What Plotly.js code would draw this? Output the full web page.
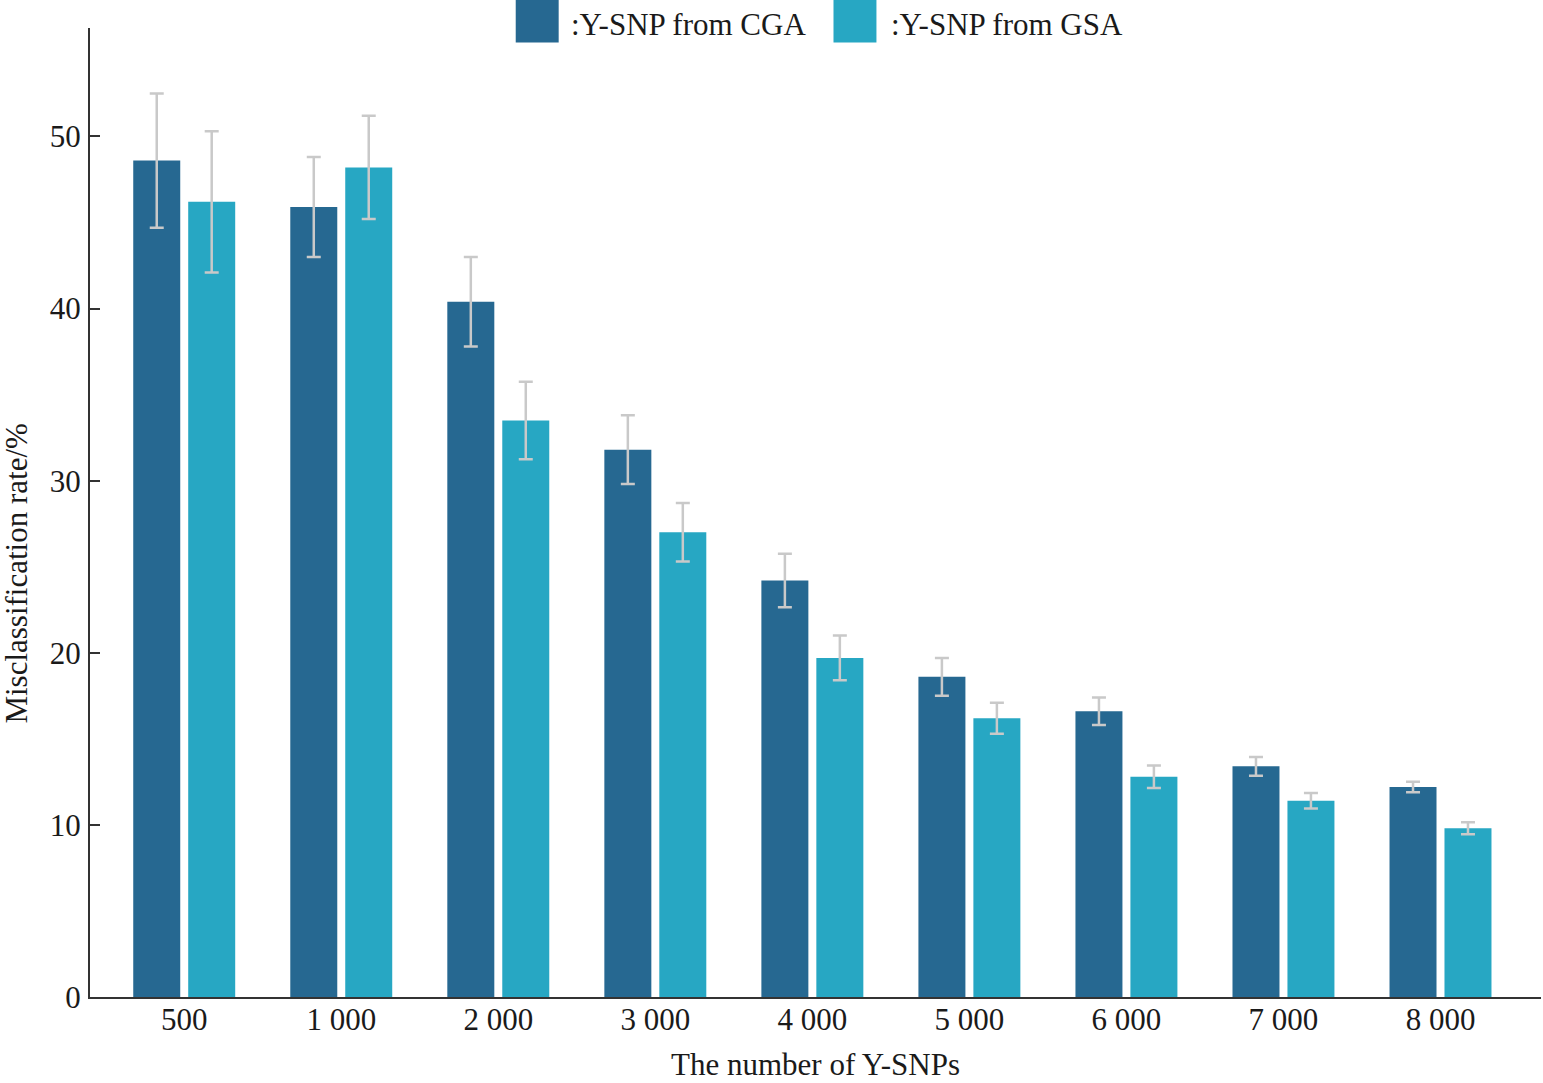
<!DOCTYPE html>
<html>
<head>
<meta charset="utf-8">
<script src="https://cdn.plot.ly/plotly-3.0.1.min.js"></script>
<style>
  html, body { margin: 0; padding: 0; background: #fff; }
  #chart { width: 1543px; height: 1083px; }
</style>
</head>
<body>
<div id="chart"></div>
<script>
// категории по оси X
var snpCounts = ['500', '1 000', '2 000', '3 000', '4 000', '5 000', '6 000', '7 000', '8 000'];

// значения (%) и половина разброса ошибки
var cgaRate = [48.6, 45.9, 40.4, 31.8, 24.2, 18.6, 16.6, 13.4, 12.2];
var cgaErr  = [3.9, 2.9, 2.6, 2.0, 1.55, 1.1, 0.8, 0.55, 0.3];
var gsaRate = [46.2, 48.2, 33.5, 27.0, 19.7, 16.2, 12.8, 11.4, 9.8];
var gsaErr  = [4.1, 3.0, 2.25, 1.7, 1.3, 0.9, 0.65, 0.45, 0.35];

var seriesNames = [':Y-SNP from CGA', ':Y-SNP from GSA'];
var seriesColors = ['#266891', '#27a7c3'];

var yTicks = [0, 10, 20, 30, 40, 50];

function makeBar(y, err, i){
	return {
		x: snpCounts,
		y: y,
		type: 'bar',
		name: seriesNames[i],
		marker: { color: seriesColors[i] },
		error_y: {
			type: 'data',
			array: err,
			visible: true,
			color: '#c9c9c9',
			thickness: 2.5,
			width: 7
		},
		showlegend: false
	};
}

var data = [makeBar(cgaRate, cgaErr, 0), makeBar(gsaRate, gsaErr, 1)];

var serif = 'Liberation Serif, Times New Roman, serif';
var txtColor = '#1a1a1a';

// легенда вручную: большие квадраты сверху
var shapes = [];
var annotations = [];
var legX = [0.2934, 0.5124];
var legTxtOff = [0.0365, 0.0385];
for(var i = 0; i < seriesNames.length; i++){
	shapes.push({
		type: 'rect', xref: 'paper', yref: 'paper',
		x0: legX[i], x1: legX[i] + 0.0296,
		y0: 0.985, y1: 1.0289,
		line: { width: 0 },
		fillcolor: seriesColors[i]
	});
	annotations.push({
		xref: 'paper', yref: 'paper',
		x: legX[i] + legTxtOff[i], y: 1.004,
		xanchor: 'left', yanchor: 'middle',
		text: seriesNames[i],
		showarrow: false,
		font: { family: serif, size: 31, color: txtColor }
	});
}

// подпись оси Y
annotations.push({
	xref: 'paper', yref: 'paper',
	x: -0.0503, y: 0.437,
	xanchor: 'center', yanchor: 'middle',
	textangle: -90,
	text: 'Misclassification rate/%',
	showarrow: false,
	font: { family: serif, size: 31, color: txtColor }
});

var layout = {
	width: 1543,
	height: 1083,
	margin: { l: 90, r: 2, t: 28, b: 86 },
	paper_bgcolor: '#fff',
	plot_bgcolor: '#fff',
	barmode: 'group',
	bargap: 0.30,
	bargroupgap: 0.145,
	font: { family: serif, size: 31, color: txtColor },
	xaxis: {
		type: 'category',
		range: [-0.6, 8.64],
		showgrid: false,
		zeroline: false,
		showline: true,
		linecolor: '#333',
		linewidth: 2,
		ticks: '',
		ticklabelstandoff: -6,
		tickfont: { family: serif, size: 31, color: txtColor },
		title: { text: 'The number of Y-SNPs', font: { family: serif, size: 31, color: txtColor }, standoff: 17 }
	},
	yaxis: {
		range: [0, 56.3],
		tickvals: yTicks,
		showgrid: false,
		zeroline: false,
		showline: true,
		linecolor: '#333',
		linewidth: 2,
		ticks: 'inside',
		ticklen: 10,
		tickwidth: 2,
		tickcolor: '#333',
		ticklabelstandoff: 1,
		tickfont: { family: serif, size: 31, color: txtColor }
	},
	shapes: shapes,
	annotations: annotations
};

Plotly.newPlot('chart', data, layout, {displayModeBar: false});
</script>
</body>
</html>
